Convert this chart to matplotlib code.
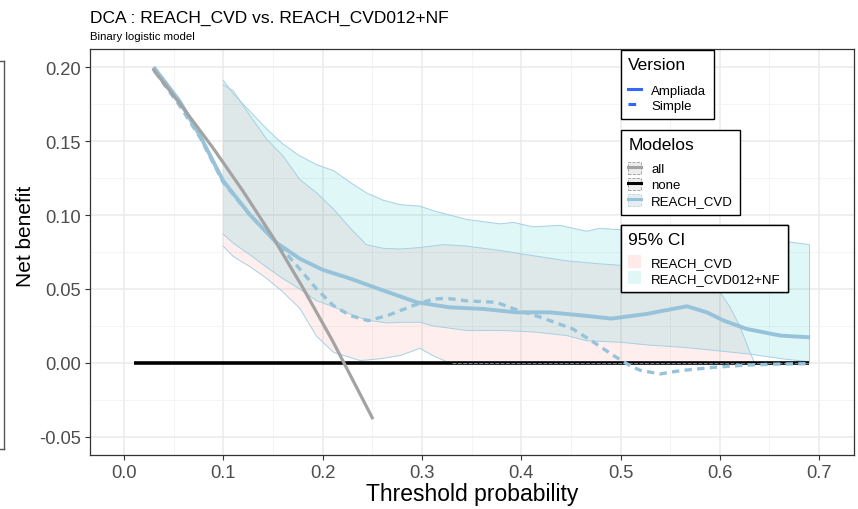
import matplotlib
matplotlib.use("Agg")
import matplotlib.pyplot as plt
from matplotlib.lines import Line2D
from matplotlib.patches import Patch
from matplotlib.ticker import MultipleLocator

plt.rcParams['font.family'] = ['Liberation Sans', 'DejaVu Sans']

# ---- data ----
# treat-all curve
x_all = [0.03, 0.06, 0.09, 0.12, 0.15, 0.18, 0.21, 0.24, 0.25]
y_all = [0.198, 0.172, 0.145, 0.116, 0.085, 0.051, 0.015, -0.024, -0.037]

# treat-none
x_none = [0.01, 0.69]
y_none = [0.0, 0.0]

# REACH_CVD, Ampliada (solid)
x_amp = [0.031, 0.056, 0.077, 0.100, 0.127, 0.154, 0.177, 0.200, 0.228, 0.261, 0.295,
         0.328, 0.362, 0.395, 0.429, 0.463, 0.491, 0.526, 0.543, 0.567, 0.587, 0.604,
         0.627, 0.661, 0.689]
y_amp = [0.199, 0.177, 0.153, 0.123, 0.100, 0.081, 0.0705, 0.063, 0.057, 0.049, 0.041,
         0.0376, 0.0365, 0.0342, 0.0342, 0.032, 0.030, 0.0331, 0.0353, 0.0383, 0.0342, 0.0286,
         0.023, 0.0185, 0.0174]

# REACH_CVD, Simple (dashed)
x_simp = [0.031, 0.056, 0.077, 0.100, 0.127, 0.154, 0.162, 0.177, 0.194, 0.211, 0.228,
          0.246, 0.265, 0.291, 0.311, 0.325, 0.345, 0.375, 0.395, 0.419, 0.452, 0.473,
          0.493, 0.510, 0.520, 0.540, 0.560, 0.593, 0.627, 0.661, 0.689]
y_simp = [0.197, 0.174, 0.152, 0.122, 0.100, 0.081, 0.075, 0.0635, 0.050, 0.0387, 0.032,
          0.0286, 0.032, 0.0387, 0.0432, 0.0437, 0.042, 0.041, 0.036, 0.031, 0.023, 0.014,
          0.005, -0.002, -0.005, -0.0074, -0.0052, -0.003, -0.0014, -0.0007, -0.0005]

# 95% CI, REACH_CVD012+NF
x_ci_nf_hi = [0.100, 0.110, 0.127, 0.144, 0.160, 0.177, 0.194, 0.211, 0.228, 0.244, 0.261,
              0.278, 0.298, 0.311, 0.345, 0.379, 0.392, 0.412, 0.439, 0.466, 0.479, 0.500,
              0.550, 0.600, 0.661, 0.690]
y_ci_nf_hi = [0.191, 0.182, 0.170, 0.158, 0.148, 0.140, 0.134, 0.130, 0.122, 0.115, 0.110,
              0.107, 0.106, 0.103, 0.097, 0.094, 0.095, 0.092, 0.093, 0.089, 0.091, 0.090,
              0.088, 0.085, 0.0826, 0.080]
x_ci_nf_lo = [0.100, 0.110, 0.127, 0.144, 0.160, 0.177, 0.194, 0.211, 0.228, 0.244, 0.265,
              0.278, 0.298, 0.311, 0.345, 0.379, 0.412, 0.446, 0.466, 0.500, 0.530, 0.563,
              0.597, 0.630, 0.664, 0.690]
y_ci_nf_lo = [0.087, 0.081, 0.073, 0.0645, 0.057, 0.050, 0.042, 0.038, 0.033, 0.029, 0.027,
              0.0275, 0.0275, 0.025, 0.022, 0.022, 0.021, 0.0185, 0.015, 0.014, 0.012, 0.0106,
              0.0083, 0.006, 0.0027, 0.0009]

# 95% CI, REACH_CVD
x_ci_cvd_hi = [0.100, 0.110, 0.127, 0.144, 0.160, 0.177, 0.194, 0.211, 0.228, 0.244, 0.261,
               0.278, 0.298, 0.322, 0.345, 0.379, 0.412, 0.446, 0.479, 0.500, 0.550, 0.580,
               0.600, 0.610, 0.620, 0.630, 0.635]
y_ci_cvd_hi = [0.188, 0.184, 0.167, 0.151, 0.140, 0.124, 0.115, 0.104, 0.091, 0.080, 0.0775,
               0.077, 0.078, 0.080, 0.079, 0.076, 0.0725, 0.069, 0.067, 0.066, 0.062, 0.057,
               0.048, 0.038, 0.025, 0.008, 0.000]
x_ci_cvd_lo = [0.100, 0.110, 0.127, 0.144, 0.160, 0.177, 0.194, 0.211, 0.238, 0.260, 0.278,
               0.298, 0.311, 0.328, 0.400, 0.500, 0.600, 0.635]
y_ci_cvd_lo = [0.079, 0.072, 0.065, 0.057, 0.048, 0.037, 0.018, 0.0072, 0.0016, 0.003, 0.005,
               0.0099, 0.005, 0.0, 0.0, 0.0, 0.0, 0.0]

col_model = '#96C3DA'
col_edge = '#A6D0E4'

fig = plt.figure(figsize=(8.58, 5.10), dpi=100)
ax = fig.add_axes([90 / 858, 1 - 456 / 510, 764 / 858, 406 / 510])

# CI ribbons
ax.fill(x_ci_cvd_hi + x_ci_cvd_lo[::-1], y_ci_cvd_hi + y_ci_cvd_lo[::-1],
        facecolor='#F8766D', alpha=0.12, edgecolor='none', zorder=1)
ax.fill(x_ci_nf_hi + x_ci_nf_lo[::-1], y_ci_nf_hi + y_ci_nf_lo[::-1],
        facecolor='#00BFC4', alpha=0.12, edgecolor='none', zorder=1)
for xs, ys in [(x_ci_cvd_hi, y_ci_cvd_hi), (x_ci_cvd_lo, y_ci_cvd_lo),
               (x_ci_nf_hi, y_ci_nf_hi), (x_ci_nf_lo, y_ci_nf_lo)]:
    ax.plot(xs, ys, color=col_edge, lw=0.7, zorder=2)
ax.plot([x_ci_nf_hi[-1], x_ci_nf_lo[-1]], [y_ci_nf_hi[-1], y_ci_nf_lo[-1]],
        color=col_edge, lw=0.7, zorder=2)

# treat none: thick black, then a dashed overlay past ~0.33
ax.plot(x_none, y_none, color='black', lw=2.6, solid_capstyle='butt', zorder=3)
ax.plot([0.33, x_none[1]], y_none, color='#6F8796', lw=0.7, ls=(0, (4, 1.5)), zorder=3)

# model curves
ax.plot(x_amp, y_amp, color=col_model, lw=2.8, zorder=4)
ax.plot(x_simp, y_simp, color=col_model, lw=2.4, ls=(0, (2.2, 1.6)), zorder=4)
ax.plot(x_all, y_all, color='#A3A3A3', lw=2.3, zorder=5)

ax.set_xlim(-0.0342, 0.7351)
ax.set_ylim(-0.0622, 0.2122)
ax.xaxis.set_major_locator(MultipleLocator(0.1))
ax.xaxis.set_minor_locator(MultipleLocator(0.05))
ax.yaxis.set_major_locator(MultipleLocator(0.05))
ax.yaxis.set_minor_locator(MultipleLocator(0.025))
ax.xaxis.set_major_formatter(plt.FuncFormatter(lambda v, p: f"{v:.1f}"))
ax.yaxis.set_major_formatter(plt.FuncFormatter(lambda v, p: f"{v:.2f}"))
ax.grid(which='major', color='#EBEBEB', lw=1.1, zorder=0)
ax.grid(which='minor', color='#F2F2F2', lw=0.6, zorder=0)
ax.set_axisbelow(True)
ax.tick_params(which='major', length=3.5, width=0.8, color='#333333',
               labelcolor='#4D4D4D', labelsize=13.2, pad=3)
ax.tick_params(which='minor', length=0)
for s in ax.spines.values():
    s.set_color('#333333')
    s.set_linewidth(0.9)

ax.set_xlabel('Threshold probability', fontsize=16.5, color='black')
ax.set_ylabel('Net benefit', fontsize=15, color='black')
ax.xaxis.set_label_coords(0.5, -0.066)
ax.yaxis.set_label_coords(-0.072, 0.54)

fig.text(90 / 858, 1 - 23 / 510, 'DCA : REACH_CVD vs. REACH_CVD012+NF',
         fontsize=12.5, ha='left', va='baseline')
fig.text(90 / 858, 1 - 40 / 510, 'Binary logistic model',
         fontsize=8.2, ha='left', va='baseline')

# legends
leg_kw = dict(loc='upper left', bbox_transform=fig.transFigure, borderaxespad=0,
              fancybox=False, framealpha=1, edgecolor='black', fontsize=9.5,
              title_fontsize=12.5, alignment='left', handletextpad=0.75,
              labelspacing=0.2, borderpad=0.55, handlelength=1.0)


def finish(leg, sep):
    leg.get_frame().set_linewidth(1.0)
    leg._legend_box.sep = sep
    ax.add_artist(leg)


ver_handles = [Line2D([], [], color='#3366FF', lw=2.2),
               Line2D([], [], color='#3366FF', lw=2.2, ls=(0, (2.5, 4)))]
finish(ax.legend(ver_handles, ['Ampliada', 'Simple'], title='Version',
                 bbox_to_anchor=(621 / 858, 1 - 51 / 510), **leg_kw), 9)

key_box = dict(facecolor='#EDEDED', edgecolor='#9A9A9A', linestyle='--', linewidth=0.6)
mod_handles = [(Patch(**key_box), Line2D([], [], color='#A3A3A3', lw=2.2)),
               (Patch(**key_box), Line2D([], [], color='black', lw=2.2)),
               (Patch(facecolor='#E6EEF2', edgecolor='#B9D3E0', linestyle='--', linewidth=0.6),
                Line2D([], [], color=col_model, lw=2.2))]
finish(ax.legend(mod_handles, ['all', 'none', 'REACH_CVD'], title='Modelos',
                 bbox_to_anchor=(621 / 858, 1 - 131 / 510), handleheight=1.0, **leg_kw), 7)

ci_handles = [Patch(facecolor='#FEEAE8', edgecolor='none'),
              Patch(facecolor='#E0F6F7', edgecolor='none')]
finish(ax.legend(ci_handles, ['REACH_CVD', 'REACH_CVD012+NF'], title='95% CI',
                 bbox_to_anchor=(621 / 858, 1 - 226 / 510), handleheight=1.1, **leg_kw), 5.5)

# partial frame of a neighbouring panel at the left edge
fig.add_artist(Line2D([3.5 / 858, 3.5 / 858], [1 - 62 / 510, 1 - 450 / 510],
                      color='#555555', lw=1.0))
fig.add_artist(Line2D([0, 3.5 / 858], [1 - 62 / 510, 1 - 62 / 510], color='#555555', lw=1.0))
fig.add_artist(Line2D([0, 3.5 / 858], [1 - 450 / 510, 1 - 450 / 510], color='#555555', lw=1.0))

fig.savefig('out.png', dpi=100)
